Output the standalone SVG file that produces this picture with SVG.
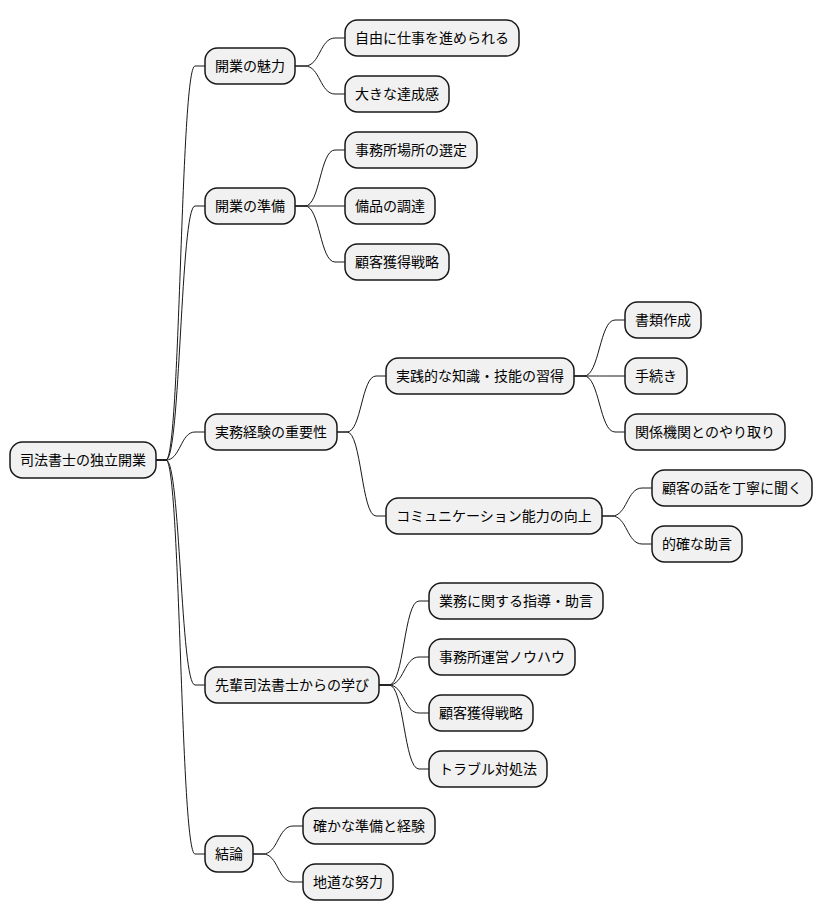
<svg xmlns="http://www.w3.org/2000/svg" width="824" height="921" viewBox="0 0 824 921">
<style>
.n rect{fill:#F1F1F1;stroke:#181818;stroke-width:1.5}
.n text{font-family:"Noto Sans CJK JP","Noto Sans CJK SC",sans-serif;font-size:14px;fill:#000;text-anchor:middle}
#connectors path{fill:none;stroke:#181818;stroke-width:1}
</style>
<rect width="824" height="921" fill="#FFFFFF"/>
<g id="connectors">
<path d="M156,460 L166,460 C180.5,460 180.5,66 195,66 L205,66"/>
<path d="M156,460 L166,460 C180.5,460 180.5,206 195,206 L205,206"/>
<path d="M156,460 L166,460 C180.5,460 180.5,432 195,432 L205,432"/>
<path d="M156,460 L166,460 C180.5,460 180.5,685 195,685 L205,685"/>
<path d="M156,460 L166,460 C180.5,460 180.5,854 195,854 L205,854"/>
<path d="M295,66 L305,66 C320,66 320,38 335,38 L345,38"/>
<path d="M295,66 L305,66 C320,66 320,94 335,94 L345,94"/>
<path d="M295,206 L305,206 C320,206 320,150 335,150 L345,150"/>
<path d="M295,206 L305,206 C320,206 320,206 335,206 L345,206"/>
<path d="M295,206 L305,206 C320,206 320,262 335,262 L345,262"/>
<path d="M337,432 L347,432 C361.5,432 361.5,376 376,376 L386,376"/>
<path d="M337,432 L347,432 C361.5,432 361.5,516 376,516 L386,516"/>
<path d="M574,376 L584,376 C599.5,376 599.5,320 615,320 L625,320"/>
<path d="M574,376 L584,376 C599.5,376 599.5,376 615,376 L625,376"/>
<path d="M574,376 L584,376 C599.5,376 599.5,432 615,432 L625,432"/>
<path d="M602,516 L612,516 C627,516 627,488 642,488 L652,488"/>
<path d="M602,516 L612,516 C627,516 627,544 642,544 L652,544"/>
<path d="M379,685 L389,685 C404,685 404,601 419,601 L429,601"/>
<path d="M379,685 L389,685 C404,685 404,657 419,657 L429,657"/>
<path d="M379,685 L389,685 C404,685 404,713 419,713 L429,713"/>
<path d="M379,685 L389,685 C404,685 404,769 419,769 L429,769"/>
<path d="M253,854 L263,854 C278,854 278,826 293,826 L303,826"/>
<path d="M253,854 L263,854 C278,854 278,882 293,882 L303,882"/>
</g>
<g id="root" class="n"><rect x="10" y="442" width="146" height="36" rx="12.5"/><text x="83" y="465">司法書士の独立開業</text></g>
<g id="a" class="n"><rect x="205" y="48" width="90" height="36" rx="12.5"/><text x="250" y="71">開業の魅力</text></g>
<g id="a1" class="n"><rect x="345" y="20" width="174" height="36" rx="12.5"/><text x="432" y="43">自由に仕事を進められる</text></g>
<g id="a2" class="n"><rect x="345" y="76" width="104" height="36" rx="12.5"/><text x="397" y="99">大きな達成感</text></g>
<g id="b" class="n"><rect x="205" y="188" width="90" height="36" rx="12.5"/><text x="250" y="211">開業の準備</text></g>
<g id="b1" class="n"><rect x="345" y="132" width="132" height="36" rx="12.5"/><text x="411" y="155">事務所場所の選定</text></g>
<g id="b2" class="n"><rect x="345" y="188" width="90" height="36" rx="12.5"/><text x="390" y="211">備品の調達</text></g>
<g id="b3" class="n"><rect x="345" y="244" width="104" height="36" rx="12.5"/><text x="397" y="267">顧客獲得戦略</text></g>
<g id="c" class="n"><rect x="205" y="414" width="132" height="36" rx="12.5"/><text x="271" y="437">実務経験の重要性</text></g>
<g id="c1" class="n"><rect x="386" y="358" width="188" height="36" rx="12.5"/><text x="480" y="381">実践的な知識・技能の習得</text></g>
<g id="c11" class="n"><rect x="625" y="302" width="76" height="36" rx="12.5"/><text x="663" y="325">書類作成</text></g>
<g id="c12" class="n"><rect x="625" y="358" width="62" height="36" rx="12.5"/><text x="656" y="381">手続き</text></g>
<g id="c13" class="n"><rect x="625" y="414" width="160" height="36" rx="12.5"/><text x="705" y="437">関係機関とのやり取り</text></g>
<g id="c2" class="n"><rect x="386" y="498" width="216" height="36" rx="12.5"/><text x="494" y="521">コミュニケーション能力の向上</text></g>
<g id="c21" class="n"><rect x="652" y="470" width="160" height="36" rx="12.5"/><text x="732" y="493">顧客の話を丁寧に聞く</text></g>
<g id="c22" class="n"><rect x="652" y="526" width="90" height="36" rx="12.5"/><text x="697" y="549">的確な助言</text></g>
<g id="d" class="n"><rect x="205" y="667" width="174" height="36" rx="12.5"/><text x="292" y="690">先輩司法書士からの学び</text></g>
<g id="d1" class="n"><rect x="429" y="583" width="174" height="36" rx="12.5"/><text x="516" y="606">業務に関する指導・助言</text></g>
<g id="d2" class="n"><rect x="429" y="639" width="146" height="36" rx="12.5"/><text x="502" y="662">事務所運営ノウハウ</text></g>
<g id="d3" class="n"><rect x="429" y="695" width="104" height="36" rx="12.5"/><text x="481" y="718">顧客獲得戦略</text></g>
<g id="d4" class="n"><rect x="429" y="751" width="118" height="36" rx="12.5"/><text x="488" y="774">トラブル対処法</text></g>
<g id="e" class="n"><rect x="205" y="836" width="48" height="36" rx="12.5"/><text x="229" y="859">結論</text></g>
<g id="e1" class="n"><rect x="303" y="808" width="132" height="36" rx="12.5"/><text x="369" y="831">確かな準備と経験</text></g>
<g id="e2" class="n"><rect x="303" y="864" width="90" height="36" rx="12.5"/><text x="348" y="887">地道な努力</text></g>
</svg>
